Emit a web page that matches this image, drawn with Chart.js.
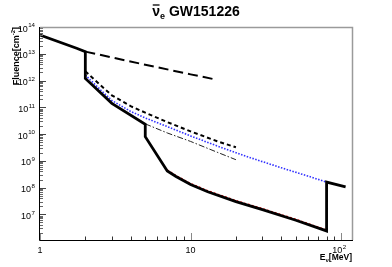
<!DOCTYPE html>
<html>
<head>
<meta charset="utf-8">
<script src="https://cdn.jsdelivr.net/npm/chart.js@4.4.0/dist/chart.umd.min.js"></script>
<style>
  html, body { margin: 0; padding: 0; background: #fff; }
  canvas { display: block; }
</style>
</head>
<body>
<canvas id="grafico" width="392" height="267"></canvas>
<script>
// ========= Datos =========
const energiaSolida = [1, 1.75, 2, 2, 3, 5, 5, 7, 8, 10, 13, 20, 30, 50, 80, 80, 107];
const flujoSolida = [5e13, 1.6e13, 1.2e13, 1.2e12, 1.4e11, 2.3e10, 8e9, 4.2e8, 2.6e8, 1.3e8, 7e7, 3e7, 1.5e7, 6e6, 2.4e6, 1.6e8, 1.07e8];

const energiaRoja = [7, 8, 10, 13, 20, 30, 50, 80];
const flujoRoja = [4.6e8, 2.85e8, 1.43e8, 7.7e7, 3.3e7, 1.65e7, 6.6e6, 2.6e6];

const energiaAzul = [2, 2.5, 3, 4, 5, 7, 10, 15, 25, 40, 60, 80];
const flujoAzul = [1.6e12, 4.7e11, 1.8e11, 7e10, 4e10, 1.9e10, 8.5e9, 3.6e9, 1.3e9, 5.5e8, 2.7e8, 1.6e8];

const energiaGuiones = [2, 2.5, 3, 4, 5, 7, 10, 15, 20];
const flujoGuiones = [2.2e12, 7e11, 2.8e11, 1.1e11, 6.3e10, 2.8e10, 1.26e10, 5.4e9, 3.2e9];

const energiaPuntoRaya = [5, 7, 10, 15, 20];
const flujoPuntoRaya = [2.4e10, 1.1e10, 5.3e9, 2.1e9, 1.1e9];

const energiaLarga = [2, 5, 10, 14];
const flujoLarga = [1.2e13, 3.9e12, 1.7e12, 1.15e12];

// ejes
const decadasX = [1, 10, 100];
const etiquetasX = [['1', ''], ['10', ''], ['10', '2']];
const exponentesY = [6, 7, 8, 9, 10, 11, 12, 13, 14];
const exponentesEtiquetaY = [7, 8, 9, 10, 11, 12, 13, 14];

const titulo = 'GW151226';
const tituloY = ['Fluence[cm', '-2', ']'];

const FUENTE = '"Liberation Sans", Arial, sans-serif';

function toPuntos(xs, ys) {
    return xs.map((x, i) => ({ x: x, y: ys[i] }));
}

// ========= Texto con exponente =========
function dibujarPotencia(ctx, base, exp, x, y, alinear, tam) {
    const tamExp = tam * 0.68;
    ctx.font = `${tam}px ${FUENTE}`;
    const wBase = ctx.measureText(base).width;
    ctx.font = `${tamExp}px ${FUENTE}`;
    const wExp = exp ? ctx.measureText(exp).width + 0.5 : 0;
    const total = wBase + wExp;
    let x0 = x;
    if (alinear === 'right') x0 = x - total;
    if (alinear === 'center') x0 = x - total / 2;
    ctx.textAlign = 'left';
    ctx.font = `${tam}px ${FUENTE}`;
    ctx.fillText(base, x0, y);
    if (exp) {
        ctx.font = `${tamExp}px ${FUENTE}`;
        ctx.fillText(exp, x0 + wBase + 0.5, y - tam * 0.47);
    }
}

// ========= Marco, marcas y textos =========
const marcoPlugin = {
    id: 'marco',
    afterDraw(chart) {
        const { ctx, chartArea: a, scales: { x, y } } = chart;
        ctx.save();

        // marcas eje X
        ctx.lineWidth = 1;
        decadasX.forEach(d => {
            for (let m = 1; m <= 9; m++) {
                const v = m * d;
                if (v < x.min || v > x.max) continue;
                const px = Math.round(x.getPixelForValue(v)) + 0.5;
                const largo = m === 1 ? 7 : 3.5;
                ctx.strokeStyle = m === 1 ? '#888' : '#333';
                ctx.beginPath();
                ctx.moveTo(px, a.bottom);
                ctx.lineTo(px, a.bottom - largo);
                ctx.stroke();
            }
        });

        // marcas eje Y
        exponentesY.forEach(e => {
            for (let m = 1; m <= 9; m++) {
                const v = m * Math.pow(10, e);
                if (v < y.min || v > y.max) continue;
                const py = Math.round(y.getPixelForValue(v)) + 0.5;
                const largo = m === 1 ? 6 : 3;
                ctx.strokeStyle = m === 1 ? '#444' : '#666';
                ctx.beginPath();
                ctx.moveTo(a.left, py);
                ctx.lineTo(a.left + largo, py);
                ctx.stroke();
            }
        });

        // marco
        ctx.strokeStyle = '#9a9a9a';
        ctx.lineWidth = 1.5;
        ctx.beginPath();
        ctx.moveTo(a.left, a.top + 0.5);
        ctx.lineTo(a.right + 0.5, a.top + 0.5);
        ctx.lineTo(a.right + 0.5, a.bottom);
        ctx.stroke();
        ctx.strokeStyle = '#000';
        ctx.lineWidth = 1;
        ctx.beginPath();
        ctx.moveTo(a.left - 0.5, a.top);
        ctx.lineTo(a.left - 0.5, a.bottom + 0.5);
        ctx.lineTo(a.right + 1, a.bottom + 0.5);
        ctx.stroke();

        // etiquetas
        ctx.fillStyle = '#000';
        decadasX.forEach((d, i) => {
            const px = x.getPixelForValue(d);
            const [base, exp] = etiquetasX[i];
            dibujarPotencia(ctx, base, exp, exp ? px - 2 : px, a.bottom + 13, 'center', 9);
        });
        exponentesEtiquetaY.forEach(e => {
            const py = y.getPixelForValue(Math.pow(10, e));
            dibujarPotencia(ctx, '10', String(e), a.left - 5, py + 4.5, 'right', 9);
        });

        // titulo eje X: E_nu[MeV]
        ctx.font = `bold 8.5px ${FUENTE}`;
        const wE = ctx.measureText('E').width;
        const wMev = ctx.measureText('[MeV]').width;
        ctx.font = `bold 6px ${FUENTE}`;
        const wNu = ctx.measureText('ν').width;
        const xx = a.right - (wE + wNu + wMev);
        const by = a.bottom + 20;
        ctx.font = `bold 8.5px ${FUENTE}`;
        ctx.fillText('E', xx, by);
        ctx.font = `bold 6px ${FUENTE}`;
        ctx.fillText('ν', xx + wE, by + 2);
        ctx.font = `bold 8.5px ${FUENTE}`;
        ctx.fillText('[MeV]', xx + wE + wNu, by);

        // titulo eje Y
        ctx.save();
        ctx.translate(19, a.top);
        ctx.rotate(-Math.PI / 2);
        ctx.font = `bold 9px ${FUENTE}`;
        const w1 = ctx.measureText(tituloY[0]).width;
        const w3 = ctx.measureText(tituloY[2]).width;
        ctx.font = `bold 6px ${FUENTE}`;
        const w2 = ctx.measureText(tituloY[1]).width;
        const tx = -(w1 + w2 + w3);
        ctx.font = `bold 9px ${FUENTE}`;
        ctx.fillText(tituloY[0], tx, 0);
        ctx.font = `bold 6px ${FUENTE}`;
        ctx.fillText(tituloY[1], tx + w1, -4);
        ctx.font = `bold 9px ${FUENTE}`;
        ctx.fillText(tituloY[2], tx + w1 + w2, 0);
        ctx.restore();

        // titulo principal: nu barra sub e
        ctx.font = `bold 14px ${FUENTE}`;
        const wNuT = ctx.measureText('ν').width;
        const wTit = ctx.measureText(' ' + titulo).width;
        ctx.font = `bold 9px ${FUENTE}`;
        const wSub = ctx.measureText('e').width;
        const total = wNuT + wSub + wTit;
        const x0 = chart.width / 2 - total / 2;
        const bt = 15.5;
        ctx.font = `bold 14px ${FUENTE}`;
        ctx.fillText('ν', x0, bt);
        ctx.lineWidth = 1.3;
        ctx.strokeStyle = '#000';
        ctx.beginPath();
        ctx.moveTo(x0 + 0.5, bt - 10.5);
        ctx.lineTo(x0 + wNuT - 0.5, bt - 10.5);
        ctx.stroke();
        ctx.font = `bold 9px ${FUENTE}`;
        ctx.fillText('e', x0 + wNuT, bt + 3);
        ctx.font = `bold 14px ${FUENTE}`;
        ctx.fillText(' ' + titulo, x0 + wNuT + wSub, bt);

        ctx.restore();
    }
};

// ========= Grafico =========
function serie(xs, ys, color, ancho, guion) {
    return {
        data: toPuntos(xs, ys),
        showLine: true,
        borderColor: color,
        borderWidth: ancho,
        borderDash: guion,
        pointRadius: 0,
        tension: 0,
        fill: false
    };
}

const ctx = document.getElementById('grafico').getContext('2d');
new Chart(ctx, {
    type: 'scatter',
    data: {
        datasets: [
            serie(energiaSolida, flujoSolida, '#000', 2.8, []),
            serie(energiaRoja, flujoRoja, '#ff0000', 1.2, [2, 2]),
            serie(energiaAzul, flujoAzul, '#3030ff', 1.6, [1.5, 1.5]),
            serie(energiaGuiones, flujoGuiones, '#000', 2, [4, 3]),
            serie(energiaPuntoRaya, flujoPuntoRaya, '#222', 1, [6, 2, 1.5, 2]),
            serie(energiaLarga, flujoLarga, '#000', 2, [10, 5])
        ]
    },
    plugins: [marcoPlugin],
    options: {
        responsive: false,
        animation: false,
        layout: { padding: { top: 27, right: 40, left: 0, bottom: 0 } },
        plugins: { legend: { display: false }, tooltip: { enabled: false }, title: { display: false } },
        scales: {
            x: {
                type: 'logarithmic', min: 1, max: 118,
                grid: { display: false }, ticks: { display: false }, border: { display: false },
                afterFit: s => { s.height = 27; }
            },
            y: {
                type: 'logarithmic', min: 1.1e6, max: 1e14,
                grid: { display: false }, ticks: { display: false }, border: { display: false },
                afterFit: s => { s.width = 40; }
            }
        }
    }
});
</script>
</body>
</html>
